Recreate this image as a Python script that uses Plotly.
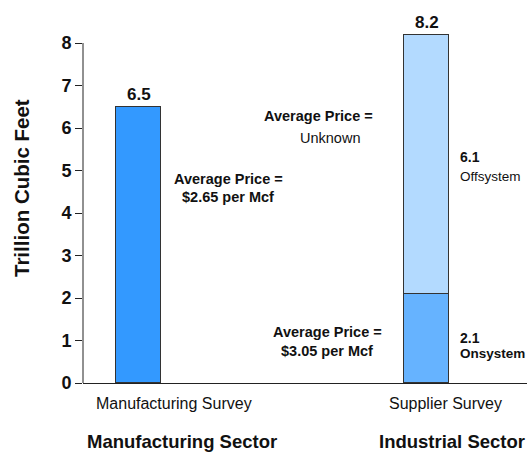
import plotly.graph_objects as go

# Natural gas consumption by survey (trillion cubic feet)
surveys = ["Manufacturing Survey", "Supplier Survey"]
sectors = ["Manufacturing Sector", "Industrial Sector"]
survey_pos = [0, 1]
manufacturing_total = [6.5]
onsystem = [2.1]
offsystem = [6.1]
supplier_total = [8.2]
y_ticks = [0, 1, 2, 3, 4, 5, 6, 7, 8]

W, H = 527, 452
L, B = 83, 69
plot_w, plot_h = W - L, H - B

def px(xp):
    return (xp - L) / plot_w

def py(yp):
    return (plot_h - yp) / plot_h

FONT = "Liberation Sans, Arial, sans-serif"
INK = "#111111"
bar_w = 0.156
outline = dict(color="#333333", width=1)

fig = go.Figure()
fig.add_bar(x=[survey_pos[0]], y=manufacturing_total, width=bar_w,
            marker=dict(color="#3399FF", line=outline), name="Manufacturing")
fig.add_bar(x=[survey_pos[1]], y=onsystem, width=bar_w,
            marker=dict(color="#66B3FF", line=outline), name="Onsystem")
fig.add_bar(x=[survey_pos[1]], y=offsystem, width=bar_w,
            marker=dict(color="#B3DAFF", line=outline), name="Offsystem")

ann = []
# totals above bars
for xv, yv in [(survey_pos[0], manufacturing_total[0]), (survey_pos[1], supplier_total[0])]:
    ann.append(dict(x=xv, y=yv, xref="x", yref="y", text=f"<b>{yv:.1f}</b>", showarrow=False,
                    yanchor="bottom", yshift=1,
                    font=dict(family=FONT, size=17, color=INK)))

def note(x, y, text, xanchor="center", size=14.5, bold=True):
    ann.append(dict(x=px(x), y=py(y), xref="paper", yref="paper",
                    text=f"<b>{text}</b>" if bold else text, showarrow=False,
                    xanchor=xanchor, yanchor="middle",
                    font=dict(family=FONT, size=size, color=INK)))

note(228, 179, "Average Price =")
note(228, 197, "$2.65 per Mcf")
note(318, 116, "Average Price =")
note(330, 138, "Unknown", bold=False)
note(327, 332, "Average Price =")
note(327, 351, "$3.05 per Mcf")
note(458, 157, f"{offsystem[0]:.1f}", xanchor="left", size=14)
note(458, 176, "Offsystem", xanchor="left", size=13.5, bold=False)
note(458, 338, f"{onsystem[0]:.1f}", xanchor="left", size=14)
note(458, 353, "Onsystem", xanchor="left", size=13.5)

# category labels and sector labels
note(174, 403, surveys[0], size=16, bold=False)
note(445, 403, surveys[1], size=16, bold=False)
note(182, 441, sectors[0], size=18.5)
note(452, 441, sectors[1], size=18.5)

# y-axis title
ann.append(dict(x=px(21), y=py(188), xref="paper", yref="paper", text="<b>Trillion Cubic Feet</b>",
                showarrow=False, textangle=-90, xanchor="center", yanchor="middle",
                font=dict(family=FONT, size=20.5, color=INK)))

x0 = -(138.5 - L) / 288
x1 = (W - 138.5) / 288

fig.update_layout(
    width=W, height=H,
    margin=dict(l=L, r=0, t=0, b=B),
    barmode="stack",
    bargap=0,
    showlegend=False,
    plot_bgcolor="white", paper_bgcolor="white",
    xaxis=dict(range=[x0, x1], showgrid=False, zeroline=False, showticklabels=False,
               showline=True, linecolor="#222222", linewidth=1, ticks=""),
    yaxis=dict(range=[0, plot_h / 42.5], tickvals=y_ticks, showgrid=False, zeroline=False,
               showline=False, ticks="outside", ticklen=7, tickcolor="#222222",
               tickfont=dict(family=FONT, size=18, color=INK, weight="bold")),
    annotations=ann,
    shapes=[dict(type="line", xref="paper", yref="y", x0=0, x1=0,
                 y0=0, y1=y_ticks[-1], line=dict(color="#222222", width=1))],
)

fig.write_html("out.html")
